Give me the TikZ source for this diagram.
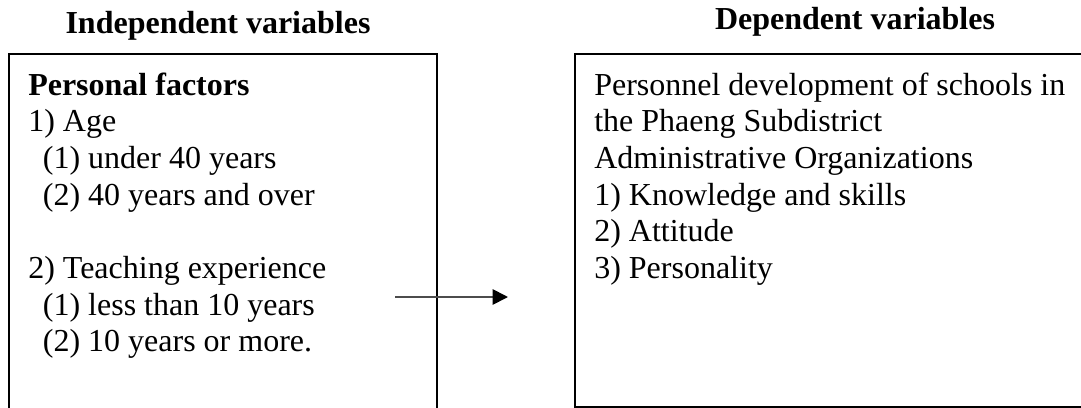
\documentclass[tikz,border=0pt]{standalone}
\usepackage{fontspec}
\setmainfont{Liberation Serif}
\usetikzlibrary{arrows.meta,positioning}

\begin{document}
\begin{tikzpicture}[
            x=0.75pt, y=-0.75pt,
            every node/.style={font=\fontsize{24}{27.5}\selectfont},
            heading/.style={font=\fontsize{24}{27.5}\selectfont\bfseries, anchor=base},
            frame/.style={draw, line width=1.5pt, anchor=north west, inner sep=0pt},
            textblock/.style={align=left, anchor=north west, inner sep=0pt},
            arrow/.style={-{Triangle[length=11.5pt,width=11.5pt,color=black]}, line width=1.3pt, black!70}
        ]
            \clip (0,0) rectangle (1081,407);

            \node[heading] (indeptitle) at (218,33) {Independent variables};
            \node[heading] (deptitle) at (855,29) {Dependent variables};

            \node[frame, minimum width=321pt, minimum height=290pt] (indep) at (8,53) {};
            \node[frame, minimum width=424.5pt, minimum height=264.4pt] (dep) at (574,53) {};

            \node[textblock] (indeptext) at (28,72.5) {\textbf{Personal factors}\\
                1) Age\\
                \hspace{11pt}(1) under 40 years\\
                \hspace{11pt}(2) 40 years and over\\[27.5pt]
                2) Teaching experience\\
                \hspace{11pt}(1) less than 10 years\\
                \hspace{11pt}(2) 10 years or more.};
            \node[textblock] (deptext) at (594,72.5) {Personnel development of schools in\\
                the Phaeng Subdistrict\\
                Administrative Organizations\\
                1) Knowledge and skills\\
                2) Attitude\\
                3) Personality};

            \coordinate (arrowstart) at (395,297);
            \coordinate (arrowend) at (508,297);
            \draw[arrow] (arrowstart) -- (arrowend);
        \end{tikzpicture}
\end{document}
